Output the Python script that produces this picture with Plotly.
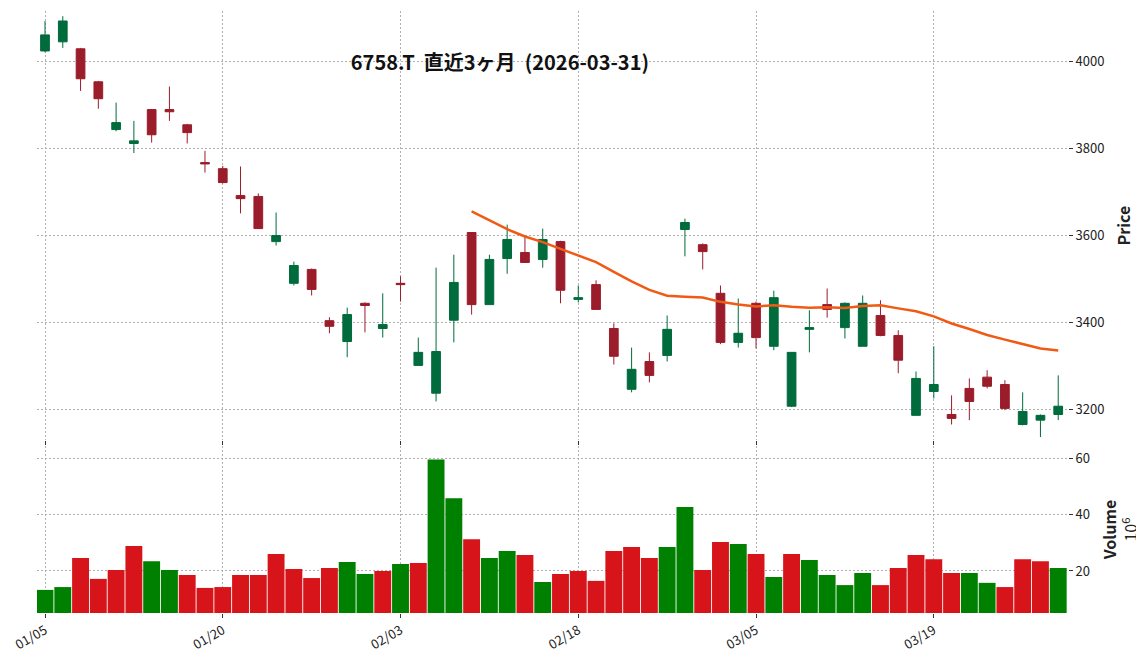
import pandas as pd
import plotly.graph_objects as go
from plotly.subplots import make_subplots

dates = ["01/05", "01/06", "01/07", "01/08", "01/09", "01/13", "01/14", "01/15", "01/16", "01/19",
         "01/20", "01/21", "01/22", "01/23", "01/26", "01/27", "01/28", "01/29", "01/30", "02/02",
         "02/03", "02/04", "02/05", "02/06", "02/09", "02/10", "02/12", "02/13", "02/16", "02/17",
         "02/18", "02/19", "02/20", "02/24", "02/25", "02/26", "02/27", "03/02", "03/03", "03/04",
         "03/05", "03/06", "03/09", "03/10", "03/11", "03/12", "03/13", "03/16", "03/17", "03/18",
         "03/19", "03/23", "03/24", "03/25", "03/26", "03/27", "03/30", "03/31"]
opens = [4025, 4046, 4030, 3954, 3844, 3812, 3890, 3890, 3855, 3768,
         3754, 3692, 3690, 3586, 3490, 3522, 3404, 3356, 3444, 3386,
         3490, 3301, 3237, 3405, 3607, 3441, 3547, 3561, 3545, 3586,
         3453, 3487, 3386, 3246, 3310, 3324, 3614, 3579, 3467, 3354,
         3444, 3345, 3207, 3384, 3441, 3388, 3345, 3416, 3370, 3186,
         3241, 3188, 3248, 3274, 3257, 3165, 3175, 3188]
highs = [4094, 4105, 4032, 3956, 3906, 3864, 3890, 3943, 3857, 3795,
         3760, 3759, 3697, 3653, 3540, 3524, 3412, 3434, 3446, 3467,
         3506, 3365, 3526, 3556, 3607, 3556, 3625, 3600, 3616, 3588,
         3485, 3497, 3398, 3342, 3331, 3416, 3639, 3582, 3485, 3455,
         3448, 3473, 3331, 3428, 3478, 3446, 3462, 3451, 3382, 3287,
         3345, 3232, 3271, 3290, 3267, 3239, 3188, 3278]
lows = [4022, 4032, 3933, 3892, 3840, 3790, 3814, 3864, 3812, 3745,
        3720, 3651, 3616, 3577, 3485, 3462, 3375, 3320, 3377, 3365,
        3448, 3301, 3218, 3354, 3418, 3441, 3512, 3538, 3526, 3444,
        3446, 3430, 3303, 3239, 3262, 3310, 3552, 3522, 3350, 3342,
        3340, 3336, 3205, 3331, 3411, 3363, 3345, 3368, 3283, 3186,
        3225, 3165, 3175, 3248, 3198, 3163, 3136, 3175]
closes = [4062, 4094, 3961, 3915, 3860, 3818, 3832, 3885, 3837, 3765,
          3722, 3685, 3616, 3600, 3531, 3476, 3391, 3418, 3439, 3395,
          3487, 3331, 3333, 3492, 3441, 3545, 3591, 3538, 3591, 3474,
          3457, 3430, 3322, 3292, 3278, 3384, 3630, 3563, 3354, 3375,
          3365, 3457, 3331, 3388, 3430, 3444, 3444, 3370, 3313, 3271,
          3257, 3179, 3218, 3253, 3202, 3195, 3186, 3207]
volumes = [13.3, 14.3, 24.6, 17.2, 20.4, 28.9, 23.5, 20.4, 18.6, 14.0,
           14.3, 18.6, 18.6, 26.0, 20.7, 17.5, 21.1, 23.2, 18.9, 20.0,
           22.5, 22.8, 59.6, 45.8, 31.3, 24.6, 27.1, 25.7, 16.1, 18.9,
           20.0, 16.5, 27.1, 28.5, 24.6, 28.5, 42.7, 20.4, 30.3, 29.6,
           26.0, 17.9, 26.0, 23.9, 18.6, 15.0, 19.3, 15.0, 21.1, 25.7,
           24.2, 19.3, 19.3, 15.8, 14.3, 24.2, 23.5, 21.1]

x = list(range(len(dates)))
ma25 = pd.Series(closes).rolling(25).mean()
# volume coloured by close vs previous close
prev = [closes[0]] + closes[:-1]
vol_colors = ["#008000" if c >= p else "#d7141a" for p, c in zip(prev, closes)]

fig = make_subplots(rows=2, cols=1, shared_xaxes=True, vertical_spacing=0.01, row_heights=[0.72, 0.28])
fig.add_trace(go.Candlestick(x=x, open=opens, high=highs, low=lows, close=closes,
                             increasing=dict(line=dict(color="#006b3c", width=1), fillcolor="#006b3c"),
                             decreasing=dict(line=dict(color="#9b1c2a", width=1), fillcolor="#9b1c2a"),
                             whiskerwidth=0, showlegend=False), row=1, col=1)
fig.add_trace(go.Scatter(x=x, y=ma25, mode="lines", line=dict(color="#f05a14", width=2.5),
                         showlegend=False), row=1, col=1)
fig.add_trace(go.Bar(x=x, y=volumes, marker=dict(color=vol_colors, line=dict(width=0)),
                     width=0.95, showlegend=False), row=2, col=1)

grid = dict(showgrid=True, gridcolor="#b0b0b0", griddash="2px,2px", gridwidth=0.6, zeroline=False,
            showline=False, ticks="outside", ticklen=4, tickcolor="#333")
fig.update_xaxes(**grid, range=[-0.45, 57.55], rangeslider_visible=False)
fig.update_xaxes(tickvals=[0, 10, 20, 30, 40, 50], ticktext=["01/05", "01/20", "02/03", "02/18", "03/05", "03/19"],
                 tickangle=-30, ticklabeloverflow="allow", tickfont=dict(size=13), row=2, col=1)
fig.update_xaxes(showticklabels=False, row=1, col=1)
fig.update_yaxes(**grid, side="right")
fig.update_yaxes(range=[3129, 4117], tickvals=[3200, 3400, 3600, 3800, 4000],
                 title=dict(text="<b>Price</b>", font=dict(size=16)), row=1, col=1)
fig.update_yaxes(range=[5.1, 64.3], tickvals=[20, 40, 60],
                 title=dict(text="<b>Volume</b><br>10<sup>6</sup>", font=dict(size=16)), row=2, col=1)

fig.update_layout(
    width=1144, height=670, plot_bgcolor="white", paper_bgcolor="white",
    margin=dict(l=20, r=84, t=3, b=65),
    font=dict(family="Noto Sans CJK JP, Noto Sans", size=13, color="#222"),
    title=dict(text="<b>6758.T  直近3ヶ月  (2026-03-31)</b>", x=0.43, xanchor="center",
               y=0.918, yanchor="middle", font=dict(size=20, color="#111")),
    bargap=0.05,
)
fig.write_html("out.html")
